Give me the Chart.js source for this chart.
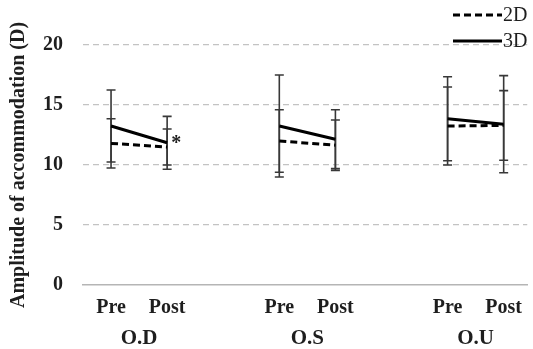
<!DOCTYPE html>
<html>
<head>
<meta charset="utf-8">
<script src="https://cdn.jsdelivr.net/npm/chart.js@4"></script>
<style>
  html, body { margin: 0; padding: 0; background: #fff; }
  #wrap { width: 533px; height: 349px; }
</style>
</head>
<body>
<div id="wrap"><canvas id="accChart"></canvas></div>
<script>
// Amplitude of accommodation, pre/post, 2D vs 3D

const groups = ['O.D', 'O.S', 'O.U'];
const phases = ['Pre', 'Post'];

// means and error (SD) per group, in order Pre, Post
const mean2D = [11.8, 11.5, 12.0, 11.65, 13.25, 13.3];
const err2D = [2.05, 1.5, 2.6, 2.1, 3.25, 2.9];
const mean3D = [13.25, 11.85, 13.25, 12.15, 13.85, 13.4];
const err3D = [3.0, 2.2, 4.25, 2.45, 3.5, 4.05];

const yTicks = [0, 5, 10, 15, 20];
const marks = [{ group: 0, phase: 1, text: '*' }];

// x position of each point: groups spaced with one empty slot between them
const xPos = [];
const tickLabels = [];
groups.forEach((g, gi) => {
    phases.forEach((p, pi) => {
        xPos.push(gi * 3 + pi + 1);
        tickLabels.push(p);
    });
});
const groupPos = groups.map((g, gi) => gi * 3 + 1.5);

function buildData(means) {
    const out = [];
    groups.forEach((g, gi) => {
        phases.forEach((p, pi) => {
            const i = gi * phases.length + pi;
            out.push({ x: xPos[i], y: means[i] });
        });
        out.push({ x: gi * 3 + 3, y: null });
    });
    return out;
}

const serif = '"Liberation Serif", "Times New Roman", serif';
const textColor = '#1e1e1e';
const gridColor = '#c3c3c3';

// whiskers behind the lines
const errorBars = {
    id: 'errorBars',
    beforeDatasetsDraw(chart) {
        const { ctx } = chart;
        const x = chart.scales.x;
        const y = chart.scales.y;
        const sets = [[mean2D, err2D], [mean3D, err3D]];
        ctx.save();
        ctx.strokeStyle = '#383838';
        ctx.lineWidth = 1.6;
        sets.forEach(([m, e]) => {
            m.forEach((v, i) => {
                const px = x.getPixelForValue(xPos[i]);
                const top = y.getPixelForValue(v + e[i]);
                const bot = y.getPixelForValue(v - e[i]);
                ctx.beginPath();
                ctx.moveTo(px, top); ctx.lineTo(px, bot);
                ctx.moveTo(px - 4.5, top); ctx.lineTo(px + 4.5, top);
                ctx.moveTo(px - 4.5, bot); ctx.lineTo(px + 4.5, bot);
                ctx.stroke();
            });
        });
        ctx.restore();
    }
};

// legend stacked at the top right, drawn from the dataset styles
const stackedLegend = {
    id: 'stackedLegend',
    afterDraw(chart, args, opts) {
        const { ctx } = chart;
        ctx.save();
        chart.data.datasets.forEach((ds, i) => {
            const ly = opts.y + i * opts.rowGap;
            ctx.strokeStyle = ds.borderColor;
            ctx.lineWidth = ds.borderWidth;
            ctx.setLineDash(ds.borderDash || []);
            ctx.beginPath();
            ctx.moveTo(opts.x, ly);
            ctx.lineTo(opts.x + opts.lineLen, ly);
            ctx.stroke();
            ctx.setLineDash([]);
            ctx.fillStyle = textColor;
            ctx.font = '20px ' + serif;
            ctx.textBaseline = 'middle';
            ctx.fillText(ds.label, opts.x + opts.lineLen + 1, ly + 1);
        });
        // significance marks
        ctx.font = 'bold 20px ' + serif;
        ctx.textAlign = 'center';
        ctx.textBaseline = 'middle';
        marks.forEach(mk => {
            const i = mk.group * phases.length + mk.phase;
            const px = chart.scales.x.getPixelForValue(xPos[i]);
            const py = chart.scales.y.getPixelForValue(mean3D[i]);
            ctx.fillText(mk.text, px + 9, py + 1);
        });
        ctx.restore();
    }
};

new Chart(document.getElementById('accChart'), {
    type: 'line',
    data: {
        datasets: [
            {
                label: '2D',
                data: buildData(mean2D),
                borderColor: '#000',
                borderWidth: 3,
                borderDash: [7, 4],
                pointRadius: 0,
                spanGaps: false,
                tension: 0
            },
            {
                label: '3D',
                data: buildData(mean3D),
                borderColor: '#000',
                borderWidth: 3,
                pointRadius: 0,
                spanGaps: false,
                tension: 0
            }
        ]
    },
    options: {
        responsive: true,
        maintainAspectRatio: false,
        animation: false,
        layout: { padding: { top: 45, right: 0, bottom: 0, left: 0 } },
        plugins: {
            legend: { display: false },
            tooltip: { enabled: false },
            stackedLegend: { x: 453, y: 15, lineLen: 49, rowGap: 26 }
        },
        scales: {
            x: {
                type: 'linear',
                min: 0.5,
                max: 8.42,
                afterBuildTicks: (s) => { s.ticks = xPos.map(v => ({ value: v })); },
                afterFit: (s) => { s.height = 28; },
                ticks: {
                    autoSkip: false,
                    maxRotation: 0,
                    padding: 11,
                    color: textColor,
                    font: { family: serif, size: 20, weight: 'bold' },
                    callback: (v, i) => tickLabels[i]
                },
                grid: { display: false, drawTicks: false },
                border: { display: true, color: '#b5b5b5', width: 1.5 }
            },
            x2: {
                type: 'linear',
                position: 'bottom',
                min: 0.5,
                max: 8.42,
                afterBuildTicks: (s) => { s.ticks = groupPos.map(v => ({ value: v })); },
                afterFit: (s) => { s.height = 36; },
                ticks: {
                    autoSkip: false,
                    maxRotation: 0,
                    padding: 13,
                    color: textColor,
                    font: { family: serif, size: 21, weight: 'bold' },
                    callback: (v, i) => groups[i]
                },
                grid: { display: false, drawTicks: false },
                border: { display: false }
            },
            y: {
                min: 0,
                max: 20,
                afterBuildTicks: (s) => { s.ticks = yTicks.map(v => ({ value: v })); },
                afterFit: (s) => { s.width = 83; },
                ticks: {
                    padding: 20,
                    color: textColor,
                    font: { family: serif, size: 20, weight: 'bold' }
                },
                grid: {
                    drawTicks: false,
                    color: (c) => c.tick && c.tick.value === 0 ? 'rgba(0,0,0,0)' : gridColor,
                    lineWidth: 1.2
                },
                border: { display: false, dash: [6, 4] },
                title: {
                    display: true,
                    text: 'Amplitude of accommodation (D)',
                    color: textColor,
                    font: { family: serif, size: 20, weight: 'bold' },
                    padding: { top: 7, bottom: 0 }
                }
            }
        }
    },
    plugins: [errorBars, stackedLegend]
});
</script>
</body>
</html>
